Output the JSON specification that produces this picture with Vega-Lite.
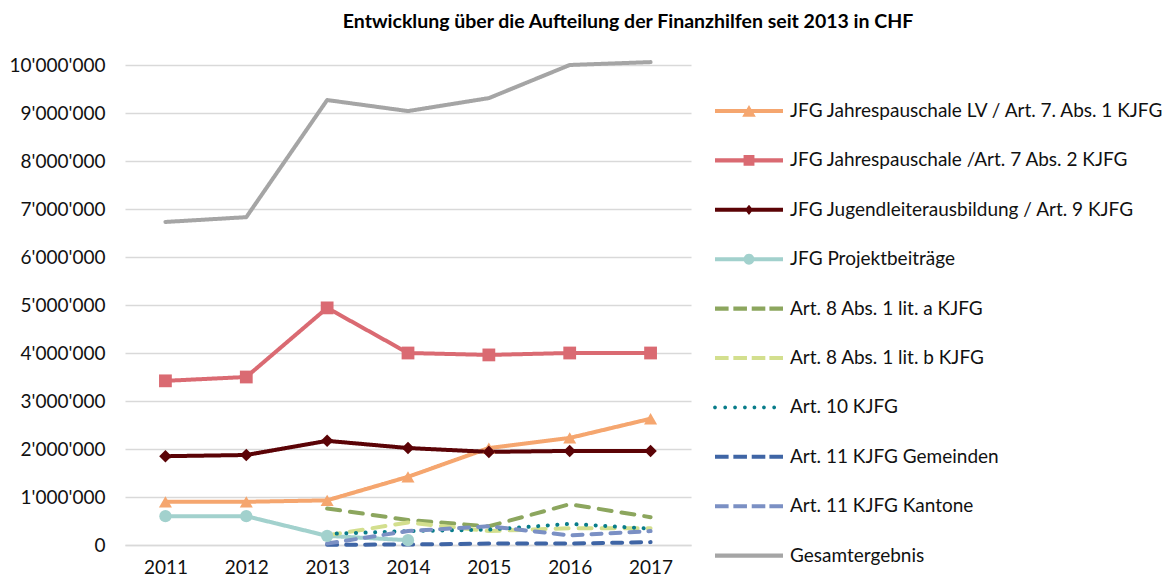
{
  "$schema": "https://vega.github.io/schema/vega-lite/v6.json",
  "width": 566,
  "height": 480,
  "autosize": {"type": "none"},
  "padding": {"left": 125, "top": 65, "right": 479, "bottom": 34},
  "title": {"text": "Entwicklung über die Aufteilung der Finanzhilfen seit 2013 in CHF", "anchor": "middle", "dx": 220, "offset": 24, "fontSize": 19.5, "font": "Lato", "fontWeight": "bold", "color": "#000000"},
  "config": {
    "font": "Lato",
    "view": {"stroke": null},
    "locale": {"number": {"decimal": ".", "thousands": "'", "grouping": [3], "currency": ["", ""]}}
  },
  "data": {"values": [
    {"year": "2011", "series": "JFG Jahrespauschale LV / Art. 7. Abs. 1 KJFG", "value": 900000},
    {"year": "2012", "series": "JFG Jahrespauschale LV / Art. 7. Abs. 1 KJFG", "value": 900000},
    {"year": "2013", "series": "JFG Jahrespauschale LV / Art. 7. Abs. 1 KJFG", "value": 930000},
    {"year": "2014", "series": "JFG Jahrespauschale LV / Art. 7. Abs. 1 KJFG", "value": 1420000},
    {"year": "2015", "series": "JFG Jahrespauschale LV / Art. 7. Abs. 1 KJFG", "value": 2020000},
    {"year": "2016", "series": "JFG Jahrespauschale LV / Art. 7. Abs. 1 KJFG", "value": 2230000},
    {"year": "2017", "series": "JFG Jahrespauschale LV / Art. 7. Abs. 1 KJFG", "value": 2630000},
    {"year": "2011", "series": "JFG Jahrespauschale /Art. 7 Abs. 2 KJFG", "value": 3420000},
    {"year": "2012", "series": "JFG Jahrespauschale /Art. 7 Abs. 2 KJFG", "value": 3500000},
    {"year": "2013", "series": "JFG Jahrespauschale /Art. 7 Abs. 2 KJFG", "value": 4940000},
    {"year": "2014", "series": "JFG Jahrespauschale /Art. 7 Abs. 2 KJFG", "value": 4000000},
    {"year": "2015", "series": "JFG Jahrespauschale /Art. 7 Abs. 2 KJFG", "value": 3960000},
    {"year": "2016", "series": "JFG Jahrespauschale /Art. 7 Abs. 2 KJFG", "value": 4000000},
    {"year": "2017", "series": "JFG Jahrespauschale /Art. 7 Abs. 2 KJFG", "value": 4000000},
    {"year": "2011", "series": "JFG Jugendleiterausbildung / Art. 9 KJFG", "value": 1850000},
    {"year": "2012", "series": "JFG Jugendleiterausbildung / Art. 9 KJFG", "value": 1875000},
    {"year": "2013", "series": "JFG Jugendleiterausbildung / Art. 9 KJFG", "value": 2170000},
    {"year": "2014", "series": "JFG Jugendleiterausbildung / Art. 9 KJFG", "value": 2020000},
    {"year": "2015", "series": "JFG Jugendleiterausbildung / Art. 9 KJFG", "value": 1940000},
    {"year": "2016", "series": "JFG Jugendleiterausbildung / Art. 9 KJFG", "value": 1960000},
    {"year": "2017", "series": "JFG Jugendleiterausbildung / Art. 9 KJFG", "value": 1960000},
    {"year": "2011", "series": "JFG Projektbeiträge", "value": 600000},
    {"year": "2012", "series": "JFG Projektbeiträge", "value": 600000},
    {"year": "2013", "series": "JFG Projektbeiträge", "value": 190000},
    {"year": "2014", "series": "JFG Projektbeiträge", "value": 100000},
    {"year": "2013", "series": "Art. 8 Abs. 1 lit. a KJFG", "value": 760000},
    {"year": "2014", "series": "Art. 8 Abs. 1 lit. a KJFG", "value": 520000},
    {"year": "2015", "series": "Art. 8 Abs. 1 lit. a KJFG", "value": 390000},
    {"year": "2016", "series": "Art. 8 Abs. 1 lit. a KJFG", "value": 850000},
    {"year": "2017", "series": "Art. 8 Abs. 1 lit. a KJFG", "value": 580000},
    {"year": "2013", "series": "Art. 8 Abs. 1 lit. b KJFG", "value": 200000},
    {"year": "2014", "series": "Art. 8 Abs. 1 lit. b KJFG", "value": 470000},
    {"year": "2015", "series": "Art. 8 Abs. 1 lit. b KJFG", "value": 290000},
    {"year": "2016", "series": "Art. 8 Abs. 1 lit. b KJFG", "value": 350000},
    {"year": "2017", "series": "Art. 8 Abs. 1 lit. b KJFG", "value": 350000},
    {"year": "2013", "series": "Art. 10 KJFG", "value": 230000},
    {"year": "2014", "series": "Art. 10 KJFG", "value": 290000},
    {"year": "2015", "series": "Art. 10 KJFG", "value": 320000},
    {"year": "2016", "series": "Art. 10 KJFG", "value": 440000},
    {"year": "2017", "series": "Art. 10 KJFG", "value": 340000},
    {"year": "2013", "series": "Art. 11 KJFG Gemeinden", "value": 5000},
    {"year": "2014", "series": "Art. 11 KJFG Gemeinden", "value": 10000},
    {"year": "2015", "series": "Art. 11 KJFG Gemeinden", "value": 30000},
    {"year": "2016", "series": "Art. 11 KJFG Gemeinden", "value": 30000},
    {"year": "2017", "series": "Art. 11 KJFG Gemeinden", "value": 60000},
    {"year": "2013", "series": "Art. 11 KJFG Kantone", "value": 30000},
    {"year": "2014", "series": "Art. 11 KJFG Kantone", "value": 290000},
    {"year": "2015", "series": "Art. 11 KJFG Kantone", "value": 390000},
    {"year": "2016", "series": "Art. 11 KJFG Kantone", "value": 200000},
    {"year": "2017", "series": "Art. 11 KJFG Kantone", "value": 290000},
    {"year": "2011", "series": "Gesamtergebnis", "value": 6730000},
    {"year": "2012", "series": "Gesamtergebnis", "value": 6830000},
    {"year": "2013", "series": "Gesamtergebnis", "value": 9270000},
    {"year": "2014", "series": "Gesamtergebnis", "value": 9040000},
    {"year": "2015", "series": "Gesamtergebnis", "value": 9310000},
    {"year": "2016", "series": "Gesamtergebnis", "value": 10000000},
    {"year": "2017", "series": "Gesamtergebnis", "value": 10060000}
  ]},
  "encoding": {
    "x": {"field": "year", "type": "ordinal", "scale": {"type": "point", "padding": 0.5},
      "axis": {"title": null, "labelAngle": 0, "ticks": false, "labelPadding": 13, "labelFontSize": 19, "labelColor": "#111111", "domainColor": "#D9D9D9", "domainWidth": 1.5, "grid": false}},
    "y": {"field": "value", "type": "quantitative", "scale": {"domain": [0, 10000000], "nice": false},
      "axis": {"title": null, "values": [0,1000000,2000000,3000000,4000000,5000000,6000000,7000000,8000000,9000000,10000000], "format": ",d", "ticks": false, "domain": false, "labelPadding": 20, "labelFontSize": 19, "labelColor": "#111111", "gridColor": "#D9D9D9", "gridWidth": 1.5}},
    "color": {"field": "series", "type": "nominal",
      "scale": {
        "domain": ["JFG Jahrespauschale LV / Art. 7. Abs. 1 KJFG", "JFG Jahrespauschale /Art. 7 Abs. 2 KJFG", "JFG Jugendleiterausbildung / Art. 9 KJFG", "JFG Projektbeiträge", "Art. 8 Abs. 1 lit. a KJFG", "Art. 8 Abs. 1 lit. b KJFG", "Art. 10 KJFG", "Art. 11 KJFG Gemeinden", "Art. 11 KJFG Kantone", "Gesamtergebnis"],
        "range": ["#F5A66F", "#DA6A72", "#5B0306", "#A2D1CD", "#8CA65E", "#D3DF8E", "#087C8A", "#3F65A5", "#7B90C4", "#A5A5A5"]
      },
      "legend": {
        "title": null, "orient": "none", "legendX": 590, "legendY": 12, "direction": "vertical",
        "symbolSize": 4624, "symbolStrokeWidth": 0, "labelOffset": 7, "labelFontSize": 19, "labelColor": "#111111", "labelLimit": 500, "rowPadding": 5.4,
        "encode": {"symbols": {"update": {
          "shape": {"signal": "['M-1,-0.06H1V0.06H-1ZM-0.2,0.17L0,-0.18L0.2,0.17Z', 'M-1,-0.06H1V0.06H-1ZM-0.16,-0.16H0.16V0.16H-0.16Z', 'M-1,-0.06H1V0.06H-1ZM0,-0.15L0.12,0L0,0.15L-0.12,0Z', 'M-1,-0.06H1V0.06H-1ZM-0.16,0A0.16,0.16,0,1,1,0.16,0A0.16,0.16,0,1,1,-0.16,0Z', 'M-1,-0.06H-0.6V0.06H-1ZM-0.46,-0.06H-0.06V0.06H-0.46ZM0.08,-0.06H0.48V0.06H0.08ZM0.6,-0.06H1V0.06H0.6Z', 'M-1,-0.06H-0.6V0.06H-1ZM-0.46,-0.06H-0.06V0.06H-0.46ZM0.08,-0.06H0.48V0.06H0.08ZM0.6,-0.06H1V0.06H0.6Z', 'M-1.055,0A0.055,0.055,0,1,1,-0.945,0A0.055,0.055,0,1,1,-1.055,0ZM-0.755,0A0.055,0.055,0,1,1,-0.645,0A0.055,0.055,0,1,1,-0.755,0ZM-0.465,0A0.055,0.055,0,1,1,-0.355,0A0.055,0.055,0,1,1,-0.465,0ZM-0.175,0A0.055,0.055,0,1,1,-0.065,0A0.055,0.055,0,1,1,-0.175,0ZM0.105,0A0.055,0.055,0,1,1,0.215,0A0.055,0.055,0,1,1,0.105,0ZM0.385,0A0.055,0.055,0,1,1,0.495,0A0.055,0.055,0,1,1,0.385,0ZM0.685,0A0.055,0.055,0,1,1,0.795,0A0.055,0.055,0,1,1,0.685,0Z', 'M-1,-0.06H-0.6V0.06H-1ZM-0.46,-0.06H-0.06V0.06H-0.46ZM0.08,-0.06H0.48V0.06H0.08ZM0.6,-0.06H1V0.06H0.6Z', 'M-1,-0.06H-0.6V0.06H-1ZM-0.46,-0.06H-0.06V0.06H-0.46ZM0.08,-0.06H0.48V0.06H0.08ZM0.6,-0.06H1V0.06H0.6Z', 'M-1,-0.06H1V0.06H-1Z'][datum.index]"},
          "fill": {"scale": "color", "field": "value"},
          "fillOpacity": {"value": 1},
          "opacity": {"value": 1},
          "stroke": {"value": "transparent"},
          "strokeWidth": {"value": 0}
        }}}
      }
    }
  },
  "layer": [
    {
      "mark": {"type": "line", "strokeWidth": 4, "strokeCap": "round", "strokeJoin": "round", "clip": false},
      "encoding": {
        "strokeDash": {"field": "series", "type": "nominal", "legend": null,
          "scale": {
            "domain": ["JFG Jahrespauschale LV / Art. 7. Abs. 1 KJFG", "JFG Jahrespauschale /Art. 7 Abs. 2 KJFG", "JFG Jugendleiterausbildung / Art. 9 KJFG", "JFG Projektbeiträge", "Art. 8 Abs. 1 lit. a KJFG", "Art. 8 Abs. 1 lit. b KJFG", "Art. 10 KJFG", "Art. 11 KJFG Gemeinden", "Art. 11 KJFG Kantone", "Gesamtergebnis"],
            "range": [[1,0], [1,0], [1,0], [1,0], [13,10], [13,10], [0.1,9.5], [10,9], [10,9], [1,0]]
          }}
      }
    },
    {
      "transform": [{"filter": "indexof(['JFG Jahrespauschale LV / Art. 7. Abs. 1 KJFG', 'JFG Jahrespauschale /Art. 7 Abs. 2 KJFG', 'JFG Jugendleiterausbildung / Art. 9 KJFG', 'JFG Projektbeiträge'], datum.series) >= 0"}],
      "mark": {"type": "point", "filled": true, "opacity": 1, "clip": false},
      "encoding": {
        "shape": {"field": "series", "type": "nominal", "legend": null,
          "scale": {"domain": ["JFG Jahrespauschale LV / Art. 7. Abs. 1 KJFG", "JFG Jahrespauschale /Art. 7 Abs. 2 KJFG", "JFG Jugendleiterausbildung / Art. 9 KJFG", "JFG Projektbeiträge"],
            "range": ["triangle-up", "square", "diamond", "circle"]}},
        "size": {"field": "series", "type": "nominal", "legend": null,
          "scale": {"domain": ["JFG Jahrespauschale LV / Art. 7. Abs. 1 KJFG", "JFG Jahrespauschale /Art. 7 Abs. 2 KJFG", "JFG Jugendleiterausbildung / Art. 9 KJFG", "JFG Projektbeiträge"],
            "range": [170, 150, 110, 150]}}
      }
    }
  ]
}
